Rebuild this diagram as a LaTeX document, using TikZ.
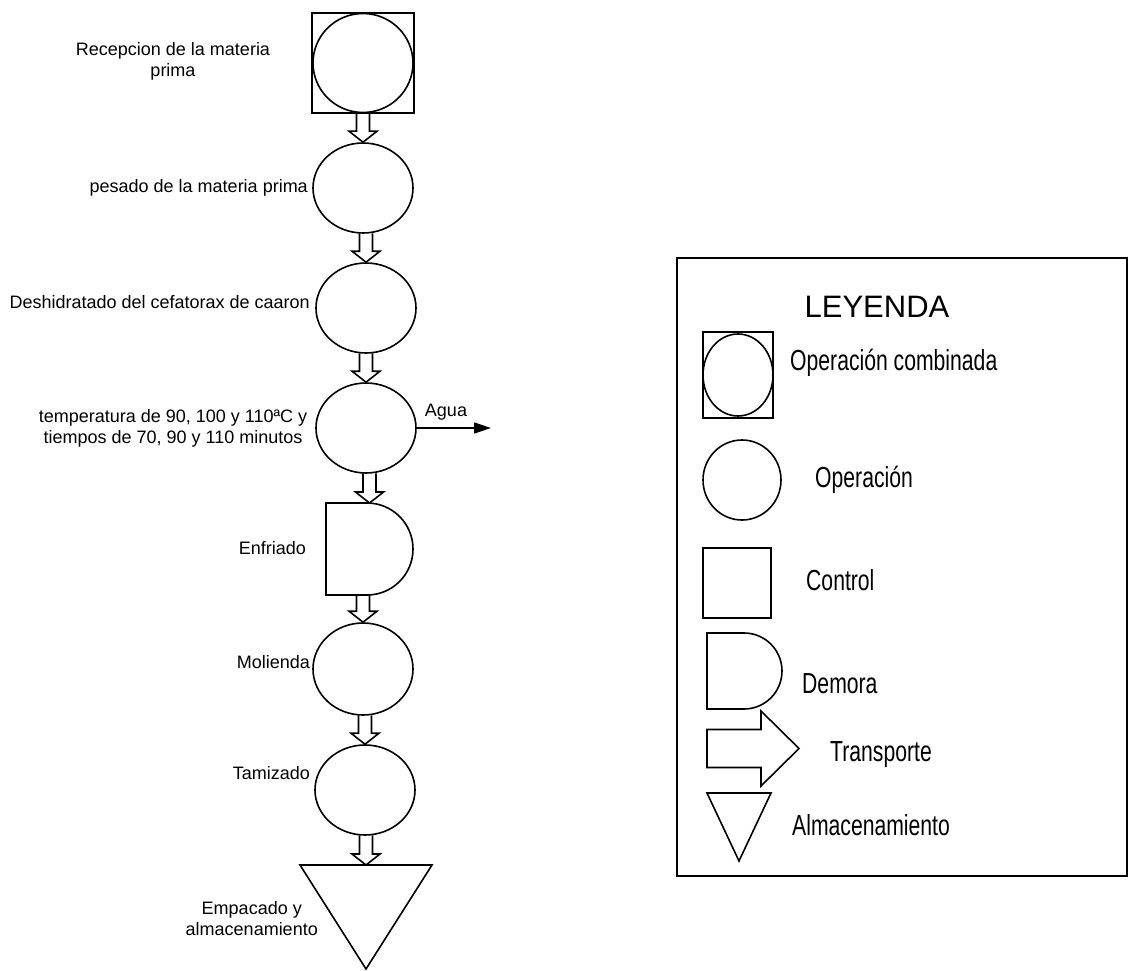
\documentclass[tikz,border=0pt]{standalone}
\usepackage{fontspec}
\setmainfont{Liberation Sans}
\newfontfamily\estrecha[FakeStretch=0.73]{Liberation Sans}
\usetikzlibrary{shapes.geometric,calc,arrows.meta}

\newcommand{\flecha}[2]{%
  \draw[bloque] ($(#1.south -| #2.north)+(-6.5pt,0.5pt)$) -- ($(#2.north)+(-6.5pt,11pt)$)
    -- ($(#2.north)+(-14pt,11pt)$) -- (#2.north) -- ($(#2.north)+(14pt,11pt)$)
    -- ($(#2.north)+(6.5pt,11pt)$) -- ($(#1.south -| #2.north)+(6.5pt,0.5pt)$);}

\begin{document}
\begin{tikzpicture}
  [x=1pt,y=-1pt,
   linea/.style={line width=1.6pt},
   operacion/.style={ellipse,draw,linea,minimum width=100pt,minimum height=90pt,inner sep=0pt},
   caja/.style={rectangle,draw,linea,inner sep=0pt},
   hueco/.style={rectangle,inner sep=0pt,outer sep=0pt},
   bloque/.style={linea,line join=miter},
   etiqueta/.style={inner sep=0pt,align=center,font=\fontsize{18}{21}\selectfont},
   leyenda/.style={inner sep=0pt,anchor=west,font=\estrecha\fontsize{29}{32}\selectfont}]
  \useasboundingbox (0,0) rectangle (1128,971);

  \node[caja,minimum width=102pt,minimum height=100pt] (n1) at (363,63) {};
  \node[operacion,minimum height=99pt] (n1b) at (n1) {};
  \node[operacion] (n2) at (363,188) {};
  \node[operacion] (n3) at (366,308) {};
  \node[operacion] (n4) at (366,428) {};
  \node[hueco,minimum width=87pt,minimum height=92pt] (n5) at (369.5,549) {};
  \node[operacion,minimum height=92pt] (n6) at (363,669) {};
  \node[operacion] (n7) at (365,790) {};
  \node[hueco,minimum width=132pt,minimum height=104pt] (n8) at (366,917) {};

  \draw[linea] (n5.north west) -- ([xshift=-46pt]n5.north east)
    arc[start angle=90,end angle=-90,radius=46pt] -- (n5.south west) -- cycle;
  \draw[linea] (n8.north west) -- (n8.north east) -- (n8.south) -- cycle;

  \flecha{n1}{n2}
  \flecha{n2}{n3}
  \flecha{n3}{n4}
  \flecha{n4}{n5}
  \flecha{n5}{n6}
  \flecha{n6}{n7}
  \flecha{n7}{n8}

  \coordinate (c1) at (491,428);
  \draw[linea,-{Triangle[length=17pt,width=11pt]}] (n4.east) -- (c1);
  \node[etiqueta] (l10) at (446,412) {Agua};

  \node[etiqueta] (l1) at (173,61) {Recepcion de la materia\\prima};
  \node[etiqueta,anchor=east] (l2) at (308,188) {pesado de la materia prima};
  \node[etiqueta,anchor=east] (l3) at (310,302) {Deshidratado del cefatorax de caaron};
  \node[etiqueta] (l4) at (173,428) {temperatura de 90, 100 y 110ªC y\\tiempos de 70, 90 y 110 minutos};
  \node[etiqueta,anchor=east] (l5) at (306,548) {Enfriado};
  \node[etiqueta,anchor=east] (l6) at (310,662) {Molienda};
  \node[etiqueta,anchor=east] (l7) at (310,773) {Tamizado};
  \node[etiqueta,anchor=east] (l8) at (318,919) {Empacado y\\almacenamiento};

  % leyenda
  \draw[line width=2pt] (677,258) rectangle (1127,876);
  \node[inner sep=0pt,font=\fontsize{31}{36}\selectfont] (l11) at (877,307) {LEYENDA};

  \node[caja,minimum width=70pt,minimum height=86pt] (m1) at (738,375) {};
  \node[operacion,minimum width=70pt,minimum height=82pt] (m1b) at (m1) {};
  \node[operacion,minimum width=78pt,minimum height=80pt] (m2) at (742,480) {};
  \node[caja,minimum width=68pt,minimum height=70pt] (m3) at (737,583) {};
  \node[hueco,minimum width=75pt,minimum height=76pt] (m4) at (744.5,671) {};
  \node[hueco,minimum width=92pt,minimum height=75pt] (m5) at (753,748.5) {};
  \node[hueco,minimum width=64pt,minimum height=68pt] (m6) at (739,827) {};

  \draw[linea] (m4.north west) -- ([xshift=-38pt]m4.north east)
    arc[start angle=90,end angle=-90,radius=38pt] -- (m4.south west) -- cycle;
  \draw[linea] ([yshift=19pt]m5.west) -- ([xshift=54pt,yshift=19pt]m5.west)
    -- ([xshift=54pt]m5.north west) -- (m5.east) -- ([xshift=54pt]m5.south west)
    -- ([xshift=54pt,yshift=-19pt]m5.west) -- ([yshift=-19pt]m5.west) -- cycle;
  \draw[linea] (m6.north west) -- (m6.north east) -- (m6.south) -- cycle;

  \node[leyenda] (l12) at (790,363) {Operación combinada};
  \node[leyenda] (l13) at (815,480) {Operación};
  \node[leyenda] (l14) at (806,580) {Control};
  \node[leyenda] (l15) at (802,684) {Demora};
  \node[leyenda] (l16) at (830,755) {Transporte};
  \node[leyenda] (l17) at (792,825) {Almacenamiento};
\end{tikzpicture}
\end{document}
